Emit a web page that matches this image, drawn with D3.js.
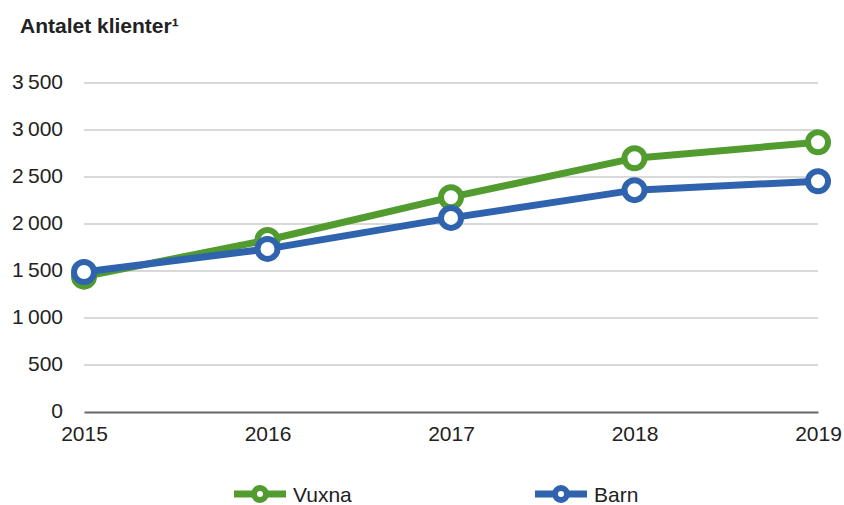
<!DOCTYPE html>
<html>
<head>
<meta charset="utf-8">
<script src="https://cdn.jsdelivr.net/npm/d3@7"></script>
<style>
  body { margin: 0; background: #fff; }
  text { font-family: "Liberation Sans", Arial, sans-serif; fill: #222; }
</style>
</head>
<body>
<div id="chart"></div>
<script>
const years = [2015, 2016, 2017, 2018, 2019];
const vuxna = [1440, 1830, 2285, 2700, 2870];
const barn = [1490, 1735, 2065, 2360, 2455];
const yTicks = [0, 500, 1000, 1500, 2000, 2500, 3000, 3500];

const w = 844, h = 505;
const svg = d3.select("#chart").append("svg")
  .attr("width", w).attr("height", h);

const x = d3.scalePoint().domain(years).range([84, 818]);
const y = d3.scaleLinear().domain([0, 3500]).range([412, 83]);

const fmt = v => d3.format(",")(v).replace(",", "\u2009");

// grid
svg.append("g")
  .selectAll("line")
  .data(yTicks.filter(d => d > 0))
  .enter().append("line")
  .attr("x1", 84).attr("x2", 818)
  .attr("y1", d => y(d)).attr("y2", d => y(d))
  .attr("stroke", "#d9d9d9").attr("stroke-width", 2);

// y labels
const yAxis = svg.append("g").attr("transform", "translate(84,0)")
  .call(d3.axisLeft(y).tickValues(yTicks).tickSize(0).tickPadding(21).tickFormat(fmt));
yAxis.select(".domain").remove();
yAxis.selectAll("text").attr("font-size", 21).attr("dy", "0.28em")
  .attr("font-family", "Liberation Sans, Arial, sans-serif").attr("fill", "#222");

// x axis
const xAxis = svg.append("g").attr("transform", "translate(0,412)")
  .call(d3.axisBottom(x).tickSize(0).tickPadding(14));
xAxis.select(".domain").attr("stroke", "#666").attr("stroke-width", 2);
xAxis.selectAll("text").attr("font-size", 21)
  .attr("font-family", "Liberation Sans, Arial, sans-serif").attr("fill", "#222");

// title
svg.append("text").attr("x", 20).attr("y", 33)
  .attr("font-size", 21).attr("font-weight", "bold").text("Antalet klienter\u00b9");

const series = [
  { name: "Vuxna", values: vuxna, color: "#529b2f" },
  { name: "Barn", values: barn, color: "#2f63ae" }
];

const line = d3.line().x((d, i) => x(years[i])).y(d => y(d));

series.forEach(s => {
  const g = svg.append("g");
  g.append("path").datum(s.values)
    .attr("d", line).attr("fill", "none")
    .attr("stroke", s.color).attr("stroke-width", 7)
    .attr("stroke-linejoin", "round");
  g.selectAll("circle").data(s.values).enter().append("circle")
    .attr("cx", (d, i) => x(years[i])).attr("cy", d => y(d))
    .attr("r", 10).attr("fill", "#fff")
    .attr("stroke", s.color).attr("stroke-width", 6);
});

// legend
const legendX = [234, 535];
series.forEach((s, i) => {
  const g = svg.append("g").attr("transform", `translate(${legendX[i]},494)`);
  g.append("line").attr("x1", 0).attr("x2", 52).attr("y1", 0).attr("y2", 0)
    .attr("stroke", s.color).attr("stroke-width", 7);
  g.append("circle").attr("cx", 26).attr("cy", 0).attr("r", 6)
    .attr("fill", "#fff").attr("stroke", s.color).attr("stroke-width", 6);
  g.append("text").attr("x", 59).attr("y", 8).attr("font-size", 21).text(s.name);
});
</script>
</body>
</html>
